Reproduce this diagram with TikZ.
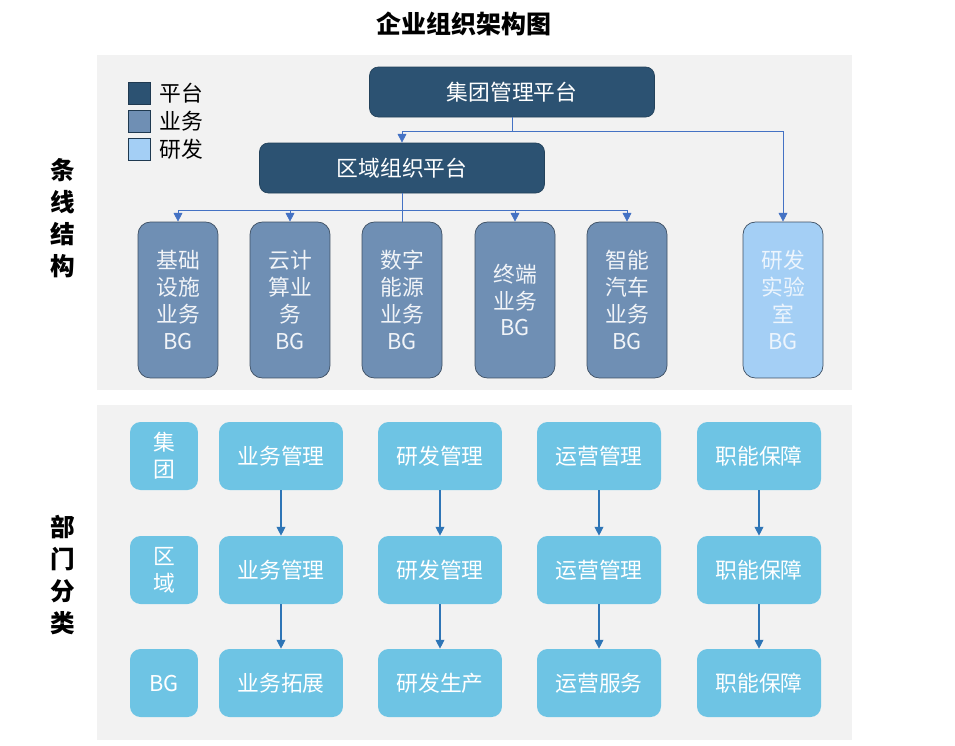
\documentclass[tikz,border=0pt]{standalone}
\usepackage{fontspec}
\setmainfont{Noto Sans CJK SC}
\usetikzlibrary{arrows.meta}
\definecolor{pingtai}{HTML}{2C5272}
\definecolor{yewu}{HTML}{6F8FB4}
\definecolor{yanfa}{HTML}{A4CFF5}
\definecolor{bumen}{HTML}{6EC4E4}
\definecolor{panel}{HTML}{F2F2F2}
\definecolor{link}{HTML}{4472C4}
\definecolor{darklink}{HTML}{2E75B6}
\begin{document}
\begin{tikzpicture}[
  x=0.02cm, y=-0.02cm,
  every node/.style={inner sep=0pt, align=center, font=\fontsize{12.4}{15.3}\selectfont},
  platbox/.style={draw=pingtai!80!black, fill=pingtai, text=white, rounded corners=5pt, minimum width=5.7cm, minimum height=1cm},
  bgbox/.style={draw=yewu!55!black, fill=yewu, text=white!90!yewu, rounded corners=7pt, minimum width=1.6cm, minimum height=3.12cm},
  labbox/.style={bgbox, fill=yanfa, text=white!80!yanfa},
  deptbox/.style={fill=bumen, text=white, rounded corners=6pt, minimum width=2.48cm, minimum height=1.36cm},
  levelbox/.style={deptbox, minimum width=1.36cm},
  key/.style={draw=pingtai!70!black, minimum size=0.44cm},
  link/.style={draw=link, -{Triangle[length=5pt,width=5pt]}},
  darkarrow/.style={draw=darklink, semithick, -{Triangle[length=5pt,width=5pt]}}
]
  \useasboundingbox (0,0) rectangle (955,745);
  \fill[panel] (97,55) rectangle (852,390);
  \fill[panel] (97,405) rectangle (852,740);

  \node[font=\fontsize{14.2}{17}\selectfont\bfseries] (title) at (464,24) {企业组织架构图};
  \node[font=\fontsize{14}{18.3}\selectfont\bfseries] (tiaoxian) at (63,218) {条\\线\\结\\构};
  \node[font=\fontsize{14}{18.3}\selectfont\bfseries] (bumenfl) at (63,575) {部\\门\\分\\类};

  \node[key, fill=pingtai] (k1) at (139,93) {};
  \node[key, fill=yewu] (k2) at (139,121) {};
  \node[key, fill=yanfa] (k3) at (139,149) {};
  \node[anchor=west] at (159,93) {平台};
  \node[anchor=west] at (159,121) {业务};
  \node[anchor=west] at (159,149) {研发};

  \node[platbox] (jt) at (512,92) {集团管理平台};
  \node[platbox] (qy) at (402,168) {区域组织平台};

  \node[bgbox] (bg1) at (178,300) {基础\\设施\\业务\\BG};
  \node[bgbox] (bg2) at (290,300) {云计\\算业\\务\\BG};
  \node[bgbox] (bg3) at (402,300) {数字\\能源\\业务\\BG};
  \node[bgbox] (bg4) at (515,300) {终端\\业务\\BG};
  \node[bgbox] (bg5) at (627,300) {智能\\汽车\\业务\\BG};
  \node[labbox] (lab) at (783,300) {研发\\实验\\室\\BG};

  \draw[link] (jt.south) -- ++(0,14) -| (qy.north);
  \draw[link] (jt.south) -- ++(0,14) -| (lab.north);
  \foreach \b in {bg1,bg2,bg4,bg5}
    \draw[link] (qy.south) -- ++(0,17) -| (\b.north);
  \draw[draw=link] (qy.south) -- (bg3.north);

  \node[levelbox] (lv1) at (164,456) {集\\团};
  \node[levelbox] (lv2) at (164,570) {区\\域};
  \node[levelbox] (lv3) at (164,683) {BG};

  \foreach \c/\x/\ta/\tb/\tc in {1/281/业务管理/业务管理/业务拓展, 2/440/研发管理/研发管理/研发生产,
      3/599/运营管理/运营管理/运营服务, 4/759/职能保障/职能保障/职能保障} {
    \node[deptbox] (d\c a) at (\x,456) {\ta};
    \node[deptbox] (d\c b) at (\x,570) {\tb};
    \node[deptbox] (d\c c) at (\x,683) {\tc};
    \draw[darkarrow] (d\c a.south) -- (d\c b.north);
    \draw[darkarrow] (d\c b.south) -- (d\c c.north);
  }
\end{tikzpicture}
\end{document}
